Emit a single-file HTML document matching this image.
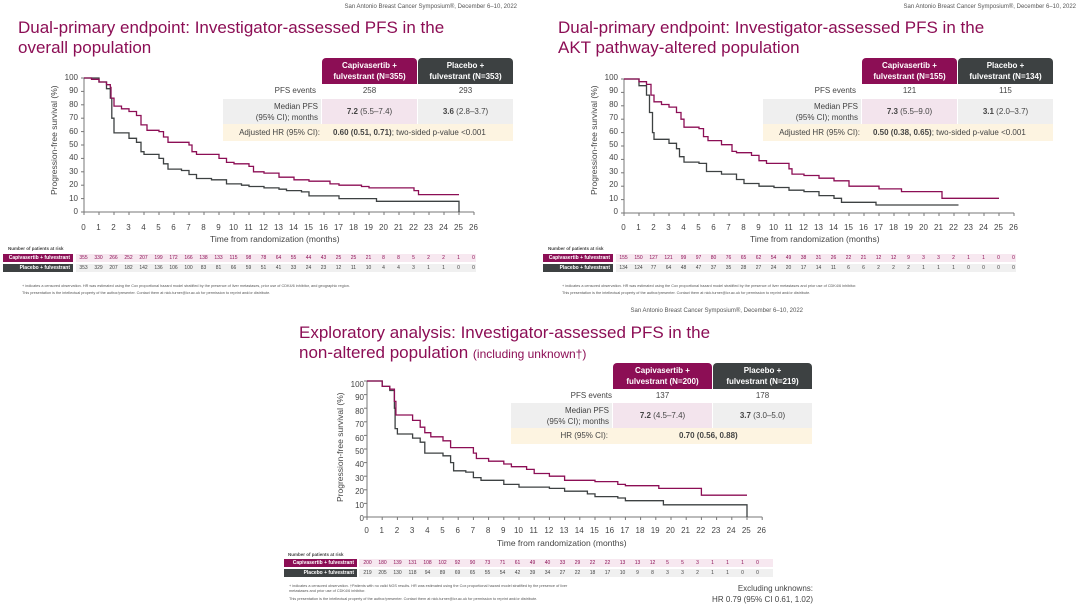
<!DOCTYPE html>
<html><head><meta charset="utf-8"><style>
*{margin:0;padding:0;box-sizing:border-box}
body{width:1080px;height:608px;background:#fff;position:relative;overflow:hidden;font-family:"Liberation Sans",Arial,sans-serif;color:#444}
.p{position:absolute;width:540px;height:304px}
.a{position:absolute;white-space:nowrap}
.hd{font-size:6px;color:#555}
.ti{font-size:17px;line-height:20px;color:#8c0e55}
.yl{position:absolute;width:22px;text-align:right;font-size:8px;line-height:13.4px}
.xt{position:absolute;display:flex;font-size:8px}
.xt span{width:15px;text-align:center;display:block}
.ax{font-size:8.5px}
.yt{position:absolute;font-size:8.5px;transform:rotate(-90deg);transform-origin:center;white-space:nowrap}
.tb{position:absolute;width:290px;height:84px;font-size:8px}
.tb div{position:absolute}
.bx{color:#fff;font-weight:bold;text-align:center;line-height:11px;padding-top:2px;border-radius:4px 4px 0 0;height:26px;width:95px;top:0}
.rk{position:absolute;display:flex;font-size:5px;line-height:8px;height:8px}
.rk span{width:15px;text-align:center}
.lab{position:absolute;width:70px;height:8px;font-size:5px;line-height:8px;font-weight:bold;color:#fff;text-align:right;padding-right:3px}
.fn{font-size:3.8px;color:#555}
</style></head><body>

<!-- PANEL 1 -->
<div class="p" style="left:0;top:0">
<div class="a hd" style="right:23px;top:4px">San Antonio Breast Cancer Symposium®, December 6–10, 2022</div>
<div class="a ti" style="left:18px;top:18px">Dual-primary endpoint: Investigator-assessed PFS in the<br>overall population</div>
<div class="tb" style="left:223px;top:58px">
 <div class="bx" style="left:99px;background:#8c0e55">Capivasertib +<br>fulvestrant (N=355)</div>
 <div class="bx" style="left:195px;background:#3d4142">Placebo +<br>fulvestrant (N=353)</div>
 <div style="right:197px;top:28px">PFS events</div>
 <div style="left:99px;width:95px;top:28px;text-align:center">258</div>
 <div style="left:195px;width:95px;top:28px;text-align:center">293</div>
 <div style="left:0;width:98px;top:41px;height:25px;background:#efefef;text-align:right;padding-right:3px;line-height:11px;padding-top:2px">Median PFS<br>(95% CI); months</div>
 <div style="left:99px;width:95px;top:41px;height:25px;background:#f3e4ed;text-align:center;line-height:25px"><b>7.2</b> (5.5–7.4)</div>
 <div style="left:195px;width:95px;top:41px;height:25px;background:#efefef;text-align:center;line-height:25px"><b>3.6</b> (2.8–3.7)</div>
 <div style="left:0;width:290px;top:66px;height:17px;background:#fdf4e1"></div>
 <div style="right:193px;top:66px;line-height:17px">Adjusted HR (95% CI):</div>
 <div style="left:110px;top:66px;line-height:17px"><b>0.60 (0.51, 0.71)</b>; two-sided p-value &lt;0.001</div>
</div>
<div class="yl" style="left:56px;top:71px">100<br>90<br>80<br>70<br>60<br>50<br>40<br>30<br>20<br>10<br>0</div>
<div class="yt" style="left:4px;top:140px;width:100px;text-align:center">Progression-free survival (%)</div>
<div class="xt" style="left:76px;top:223px"><span>0</span><span>1</span><span>2</span><span>3</span><span>4</span><span>5</span><span>6</span><span>7</span><span>8</span><span>9</span><span>10</span><span>11</span><span>12</span><span>13</span><span>14</span><span>15</span><span>16</span><span>17</span><span>18</span><span>19</span><span>20</span><span>21</span><span>22</span><span>23</span><span>24</span><span>25</span><span>26</span></div>
<div class="a ax" style="left:210px;top:234px">Time from randomization (months)</div>
<div class="a" style="left:8px;top:246px;font-size:4.5px;font-weight:bold">Number of patients at risk</div>
<div class="a" style="left:76px;top:254px;width:400px;height:8px;background:#f7e8f0"></div>
<div class="a" style="left:76px;top:264px;width:400px;height:8px;background:#f0f0f0"></div>
<div class="lab" style="left:3px;top:254px;background:#8c0e55">Capivasertib + fulvestrant</div>
<div class="lab" style="left:3px;top:264px;background:#3d4142">Placebo + fulvestrant</div>
<div class="rk" style="left:76px;top:254px;color:#8c0e55"><span>355</span><span>330</span><span>266</span><span>252</span><span>207</span><span>199</span><span>172</span><span>166</span><span>138</span><span>133</span><span>115</span><span>98</span><span>78</span><span>64</span><span>55</span><span>44</span><span>43</span><span>25</span><span>25</span><span>21</span><span>8</span><span>8</span><span>5</span><span>2</span><span>2</span><span>1</span><span>0</span></div>
<div class="rk" style="left:76px;top:264px"><span>353</span><span>329</span><span>207</span><span>182</span><span>142</span><span>136</span><span>106</span><span>100</span><span>83</span><span>81</span><span>66</span><span>59</span><span>51</span><span>41</span><span>33</span><span>24</span><span>23</span><span>12</span><span>11</span><span>10</span><span>4</span><span>4</span><span>3</span><span>1</span><span>1</span><span>0</span><span>0</span></div>
<div class="a fn" style="left:22px;top:284px">+ indicates a censored observation. HR was estimated using the Cox proportional hazard model stratified by the presence of liver metastases, prior use of CDK4/6 inhibitor, and geographic region.</div>
<div class="a fn" style="left:22px;top:291px">This presentation is the intellectual property of the author/presenter. Contact them at nick.turner@icr.ac.uk for permission to reprint and/or distribute.</div>
</div>

<!-- PANEL 2 -->
<div class="p" style="left:540px;top:0">
<div class="a hd" style="right:4px;top:4px">San Antonio Breast Cancer Symposium®, December 6–10, 2022</div>
<div class="a ti" style="left:18px;top:18px">Dual-primary endpoint: Investigator-assessed PFS in the<br>AKT pathway-altered population</div>
<div class="tb" style="left:223px;top:58px">
 <div class="bx" style="left:99px;background:#8c0e55">Capivasertib +<br>fulvestrant (N=155)</div>
 <div class="bx" style="left:195px;background:#3d4142">Placebo +<br>fulvestrant (N=134)</div>
 <div style="right:197px;top:28px">PFS events</div>
 <div style="left:99px;width:95px;top:28px;text-align:center">121</div>
 <div style="left:195px;width:95px;top:28px;text-align:center">115</div>
 <div style="left:0;width:98px;top:41px;height:25px;background:#efefef;text-align:right;padding-right:3px;line-height:11px;padding-top:2px">Median PFS<br>(95% CI); months</div>
 <div style="left:99px;width:95px;top:41px;height:25px;background:#f3e4ed;text-align:center;line-height:25px"><b>7.3</b> (5.5–9.0)</div>
 <div style="left:195px;width:95px;top:41px;height:25px;background:#efefef;text-align:center;line-height:25px"><b>3.1</b> (2.0–3.7)</div>
 <div style="left:0;width:290px;top:66px;height:17px;background:#fdf4e1"></div>
 <div style="right:193px;top:66px;line-height:17px">Adjusted HR (95% CI):</div>
 <div style="left:110px;top:66px;line-height:17px"><b>0.50 (0.38, 0.65)</b>; two-sided p-value &lt;0.001</div>
</div>
<div class="yl" style="left:56px;top:71px">100<br>90<br>80<br>70<br>60<br>50<br>40<br>30<br>20<br>10<br>0</div>
<div class="yt" style="left:4px;top:140px;width:100px;text-align:center">Progression-free survival (%)</div>
<div class="xt" style="left:76px;top:223px"><span>0</span><span>1</span><span>2</span><span>3</span><span>4</span><span>5</span><span>6</span><span>7</span><span>8</span><span>9</span><span>10</span><span>11</span><span>12</span><span>13</span><span>14</span><span>15</span><span>16</span><span>17</span><span>18</span><span>19</span><span>20</span><span>21</span><span>22</span><span>23</span><span>24</span><span>25</span><span>26</span></div>
<div class="a ax" style="left:210px;top:234px">Time from randomization (months)</div>
<div class="a" style="left:8px;top:246px;font-size:4.5px;font-weight:bold">Number of patients at risk</div>
<div class="a" style="left:76px;top:254px;width:400px;height:8px;background:#f7e8f0"></div>
<div class="a" style="left:76px;top:264px;width:400px;height:8px;background:#f0f0f0"></div>
<div class="lab" style="left:3px;top:254px;background:#8c0e55">Capivasertib + fulvestrant</div>
<div class="lab" style="left:3px;top:264px;background:#3d4142">Placebo + fulvestrant</div>
<div class="rk" style="left:76px;top:254px;color:#8c0e55"><span>155</span><span>150</span><span>127</span><span>121</span><span>99</span><span>97</span><span>80</span><span>76</span><span>65</span><span>62</span><span>54</span><span>49</span><span>38</span><span>31</span><span>26</span><span>22</span><span>21</span><span>12</span><span>12</span><span>9</span><span>3</span><span>3</span><span>2</span><span>1</span><span>1</span><span>0</span><span>0</span></div>
<div class="rk" style="left:76px;top:264px"><span>134</span><span>124</span><span>77</span><span>64</span><span>48</span><span>47</span><span>37</span><span>35</span><span>28</span><span>27</span><span>24</span><span>20</span><span>17</span><span>14</span><span>11</span><span>6</span><span>6</span><span>2</span><span>2</span><span>2</span><span>1</span><span>1</span><span>1</span><span>0</span><span>0</span><span>0</span><span>0</span></div>
<div class="a fn" style="left:22px;top:284px">+ indicates a censored observation. HR was estimated using the Cox proportional hazard model stratified by the presence of liver metastases and prior use of CDK4/6 inhibitor.</div>
<div class="a fn" style="left:22px;top:291px">This presentation is the intellectual property of the author/presenter. Contact them at nick.turner@icr.ac.uk for permission to reprint and/or distribute.</div>
</div>

<!-- PANEL 3 -->
<div class="p" style="left:283px;top:303px">
<div class="a hd" style="right:20px;top:5px">San Antonio Breast Cancer Symposium®, December 6–10, 2022</div>
<div class="a ti" style="left:16px;top:20px">Exploratory analysis: Investigator-assessed PFS in the<br>non-altered population <span style="font-size:12px">(including unknown†)</span></div>
<div class="tb" style="left:228px;top:60px;width:301px">
 <div class="bx" style="left:102px;width:99px;background:#8c0e55">Capivasertib +<br>fulvestrant (N=200)</div>
 <div class="bx" style="left:202px;width:99px;background:#3d4142">Placebo +<br>fulvestrant (N=219)</div>
 <div style="right:200px;top:28px">PFS events</div>
 <div style="left:102px;width:99px;top:28px;text-align:center">137</div>
 <div style="left:202px;width:99px;top:28px;text-align:center">178</div>
 <div style="left:0;width:101px;top:40px;height:25px;background:#efefef;text-align:right;padding-right:3px;line-height:11px;padding-top:2px">Median PFS<br>(95% CI); months</div>
 <div style="left:102px;width:99px;top:40px;height:25px;background:#f3e4ed;text-align:center;line-height:25px"><b>7.2</b> (4.5–7.4)</div>
 <div style="left:202px;width:99px;top:40px;height:25px;background:#efefef;text-align:center;line-height:25px"><b>3.7</b> (3.0–5.0)</div>
 <div style="left:0;width:301px;top:65px;height:16px;background:#fdf4e1"></div>
 <div style="right:204px;top:65px;line-height:16px">HR (95% CI):</div>
 <div style="left:168px;top:65px;line-height:16px"><b>0.70 (0.56, 0.88)</b></div>
</div>
<div class="yl" style="left:59px;top:75px">100<br>90<br>80<br>70<br>60<br>50<br>40<br>30<br>20<br>10<br>0</div>
<div class="yt" style="left:7px;top:144px;width:100px;text-align:center">Progression-free survival (%)</div>
<div class="xt" style="left:76px;top:223px"><span style="width:15.2px">0</span><span style="width:15.2px">1</span><span style="width:15.2px">2</span><span style="width:15.2px">3</span><span style="width:15.2px">4</span><span style="width:15.2px">5</span><span style="width:15.2px">6</span><span style="width:15.2px">7</span><span style="width:15.2px">8</span><span style="width:15.2px">9</span><span style="width:15.2px">10</span><span style="width:15.2px">11</span><span style="width:15.2px">12</span><span style="width:15.2px">13</span><span style="width:15.2px">14</span><span style="width:15.2px">15</span><span style="width:15.2px">16</span><span style="width:15.2px">17</span><span style="width:15.2px">18</span><span style="width:15.2px">19</span><span style="width:15.2px">20</span><span style="width:15.2px">21</span><span style="width:15.2px">22</span><span style="width:15.2px">23</span><span style="width:15.2px">24</span><span style="width:15.2px">25</span><span style="width:15.2px">26</span></div>
<div class="a ax" style="left:214px;top:235px">Time from randomization (months)</div>
<div class="a" style="left:5px;top:249px;font-size:4.5px;font-weight:bold">Number of patients at risk</div>
<div class="a" style="left:76px;top:256px;width:414px;height:8px;background:#f7e8f0"></div>
<div class="a" style="left:76px;top:266px;width:414px;height:8px;background:#f0f0f0"></div>
<div class="lab" style="left:1px;top:256px;width:73px;background:#8c0e55">Capivasertib + fulvestrant</div>
<div class="lab" style="left:1px;top:266px;width:73px;background:#3d4142">Placebo + fulvestrant</div>
<div class="rk" style="left:77px;top:256px;color:#8c0e55"><span>200</span><span>180</span><span>139</span><span>131</span><span>108</span><span>102</span><span>92</span><span>90</span><span>73</span><span>71</span><span>61</span><span>49</span><span>40</span><span>33</span><span>29</span><span>22</span><span>22</span><span>13</span><span>13</span><span>12</span><span>5</span><span>5</span><span>3</span><span>1</span><span>1</span><span>1</span><span>0</span></div>
<div class="rk" style="left:77px;top:266px"><span>219</span><span>205</span><span>130</span><span>118</span><span>94</span><span>89</span><span>69</span><span>65</span><span>55</span><span>54</span><span>42</span><span>39</span><span>34</span><span>27</span><span>22</span><span>18</span><span>17</span><span>10</span><span>9</span><span>8</span><span>3</span><span>3</span><span>2</span><span>1</span><span>1</span><span>0</span><span>0</span></div>
<div class="a fn" style="left:6px;top:281px">+ indicates a censored observation. †Patients with no valid NGS results. HR was estimated using the Cox proportional hazard model stratified by the presence of liver</div>
<div class="a fn" style="left:6px;top:286px">metastases and prior use of CDK4/6 inhibitor.</div>
<div class="a fn" style="left:6px;top:294px">This presentation is the intellectual property of the author/presenter. Contact them at nick.turner@icr.ac.uk for permission to reprint and/or distribute.</div>
<div class="a" style="right:10px;top:280px;font-size:8px;text-align:right;line-height:11px;color:#444">Excluding unknowns:<br>HR 0.79 (95% CI 0.61, 1.02)</div>
</div>

<svg id="sv" width="1080" height="608" style="position:absolute;left:0;top:0"></svg>
<script>
var C='#8c0e55',G='#3d4142';
var panels=[
{x0:84,y0:212,sx:15,sy:1.34,
 cap:[[0,100],[0.5,99],[1,97],[1.5,95],[1.75,93],[1.8,85],[2,79],[2.5,77],[3,75],[3.5,72],[3.8,65],[4.2,61],[5,60],[5.3,56],[5.6,52],[7,50],[7.2,45],[7.5,43],[9,40],[9.5,37],[10,36],[11,34],[11.3,30],[12,29],[13,26],[14,24],[15,23],[16.4,21],[17,20],[18.5,19],[19,18],[22,16],[22.3,13],[25,13]],
 pla:[[0,100],[1,97],[1.5,92],[1.75,85],[1.85,70],[2,59],[3,55],[3.5,52],[3.8,45],[4,43],[5,40],[5.3,36],[5.6,32],[6.5,31],[7,28],[7.5,25],[8.5,24],[9.5,21],[10.5,20],[11,19],[12,18],[13,17],[13.5,16],[14.5,15],[15,12],[17,10],[19.5,8],[25,8],[25,0]]},
{x0:624,y0:213,sx:15,sy:1.34,
 cap:[[0,100],[1,98],[1.5,96],[1.8,88],[2,83],[2.5,81],[3,79],[3.5,75],[3.8,70],[4,64],[5,63],[5.3,57],[5.6,54],[6.5,51],[7.2,46],[7.5,45],[8.5,43],[9,39],[9.5,37],[11,33],[11.2,29],[12,28],[13,26],[14,24],[15,20],[17,18],[18.5,16],[21.2,11],[25,11]],
 pla:[[0,100],[1,95],[1.5,88],[1.7,75],[1.9,60],[2,55],[3,52],[3.5,48],[3.7,42],[4,38],[5,37],[5.5,31],[6.5,29],[7.5,25],[8,22],[9,20],[10,19],[11,17],[12,16],[13,13],[14,11],[14.5,8],[16.8,6],[22.3,6]]},
{x0:367,y0:517,sx:15.2,sy:1.36,
 cap:[[0,100],[1,96],[1.5,94],[1.8,85],[1.9,75],[3,71],[3.5,66],[3.8,62],[4.2,59],[5,56],[5.5,51],[7,47],[7.2,43],[8,41],[9,39],[9.5,37],[10.5,35],[11,32],[12,30],[13,27],[15,26],[16.5,24],[17,23],[19.2,21],[22,16],[25,16]],
 pla:[[0,100],[1,96],[1.5,93],[1.8,80],[1.85,65],[2,61],[3,58],[3.5,55],[3.8,47],[5,45],[5.5,40],[5.7,34],[6.5,33],[7,29],[7.5,27],[9,24],[10,22],[12,21],[13,19],[14.5,17],[15,15],[16.5,14],[17,12],[19.5,9],[25,9],[25,0]]}
];
var s='';
panels.forEach(function(p){
 var X=function(t){return p.x0+t*p.sx},Y=function(v){return p.y0-v*p.sy};
 s+='<line x1="'+p.x0+'" y1="'+Y(100)+'" x2="'+p.x0+'" y2="'+p.y0+'" stroke="#777" stroke-width="1"/>';
 s+='<line x1="'+p.x0+'" y1="'+p.y0+'" x2="'+X(26)+'" y2="'+p.y0+'" stroke="#777" stroke-width="1"/>';
 for(var i=0;i<=10;i++)s+='<line x1="'+(p.x0-3)+'" y1="'+Y(i*10)+'" x2="'+p.x0+'" y2="'+Y(i*10)+'" stroke="#777"/>';
 for(var i=0;i<=26;i++)s+='<line x1="'+X(i)+'" y1="'+p.y0+'" x2="'+X(i)+'" y2="'+(p.y0+3)+'" stroke="#777"/>';
 [[p.pla,G],[p.cap,C]].forEach(function(a){
  var d='M'+X(0)+' '+Y(100);
  a[0].forEach(function(q){d+=' H'+X(q[0]).toFixed(1)+' V'+Y(q[1]).toFixed(1)});
  s+='<path d="'+d+'" fill="none" stroke="'+a[1]+'" stroke-width="1.3"/>';
 });
});
document.getElementById('sv').innerHTML=s;
</script>
</body></html>
